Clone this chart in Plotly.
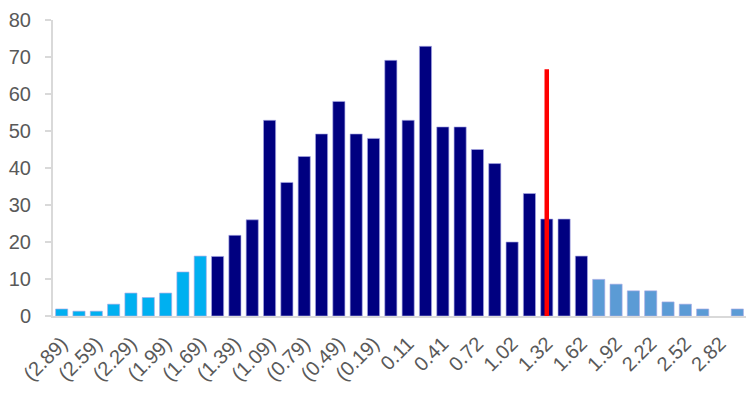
import plotly.graph_objects as go

categories = ["(2.89)", "(2.74)", "(2.59)", "(2.44)", "(2.29)", "(2.14)", "(1.99)", "(1.84)",
              "(1.69)", "(1.54)", "(1.39)", "(1.24)", "(1.09)", "(0.94)", "(0.79)", "(0.64)",
              "(0.49)", "(0.34)", "(0.19)", "(0.04)", "0.11", "0.26", "0.41", "0.56",
              "0.72", "0.87", "1.02", "1.17", "1.32", "1.47", "1.62", "1.77",
              "1.92", "2.07", "2.22", "2.37", "2.52", "2.67", "2.82", "2.97"]

values = [1.9, 1.3, 1.3, 3.2, 6.2, 5.0, 6.2, 11.9,
          16.2, 16.1, 21.8, 26.0, 52.9, 36.1, 43.1, 49.2,
          58.0, 49.2, 48.0, 69.1, 52.9, 72.9, 51.1, 51.1,
          45.0, 41.2, 20.0, 33.1, 26.2, 26.2, 16.2, 9.9,
          8.6, 6.8, 6.8, 3.8, 3.2, 1.9, 0.0, 1.9]

group = ["low"] * 9 + ["mid"] * 22 + ["high"] * 9
group_colors = {"low": "#00B0F0", "mid": "#000080", "high": "#5B9BD5"}

marker_category = "1.32"
marker_value = 66.7

tick_labels = categories[::2]

fig = go.Figure()
fig.add_trace(go.Bar(
    x=categories, y=values,
    marker=dict(color=[group_colors[g] for g in group],
                line=dict(color="rgba(170,170,230,0.8)",
                          width=[0.8 if v > 0 else 0 for v in values])),
    showlegend=False, hoverinfo="x+y",
))
fig.add_trace(go.Scatter(
    x=[marker_category, marker_category], y=[0, marker_value],
    mode="lines", line=dict(color="#FF0000", width=4.5),
    showlegend=False,
))

font_family = "Liberation Sans, Arial, sans-serif"
fig.update_layout(
    width=750, height=393,
    margin=dict(l=53, r=4, t=20, b=77),
    paper_bgcolor="white", plot_bgcolor="white",
    bargap=0.3,
    font=dict(family=font_family, size=20, color="#595959"),
    xaxis=dict(
        type="category", categoryorder="array", categoryarray=categories,
        tickmode="array", tickvals=tick_labels, ticktext=tick_labels,
        tickangle=-45, showgrid=False, zeroline=False,
        showline=True, linecolor="#D9D9D9", linewidth=2,
        ticks="", tickfont=dict(size=20, color="#595959"),
        ticklabelstandoff=6,
        range=[-0.5, len(categories) - 0.5],
    ),
    yaxis=dict(
        range=[0, 80], dtick=10, showgrid=False, zeroline=False,
        showline=True, linecolor="#D9D9D9", linewidth=2,
        ticks="outside", ticklen=6, tickcolor="#D9D9D9", tickwidth=2,
        tickfont=dict(size=20, color="#595959"),
        ticklabelstandoff=10,
    ),
)

fig.write_html("out.html")
